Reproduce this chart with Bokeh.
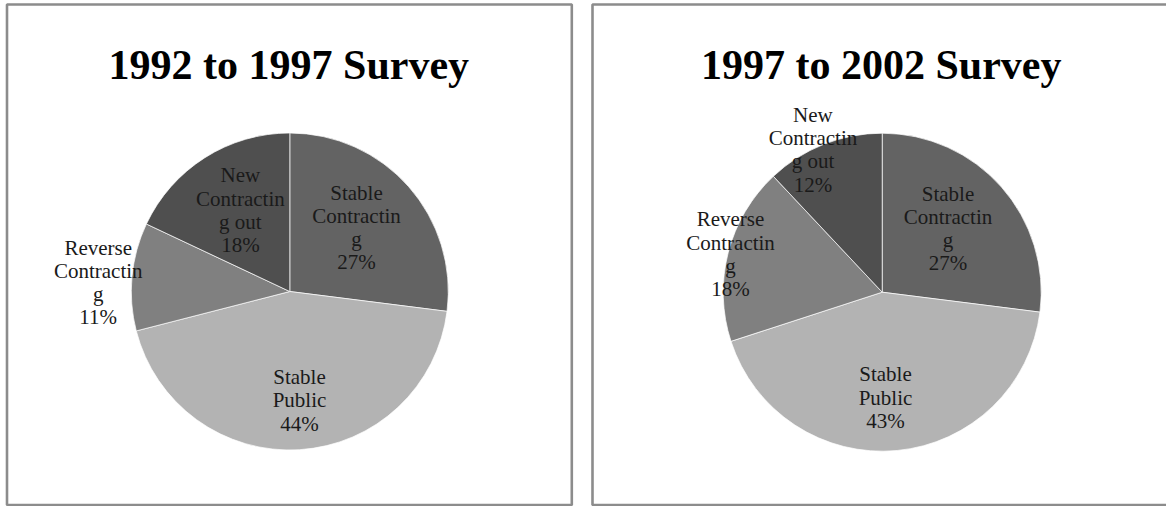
import math
from bokeh.plotting import figure
from bokeh.models import Range1d, ColumnDataSource
from bokeh.embed import file_html
from bokeh.resources import INLINE
from bokeh.core.properties import value

# ---------------- data ----------------
titles = ["1992 to 1997 Survey", "1997 to 2002 Survey"]
categories = ["Stable Contracting", "Stable Public", "Reverse Contracting", "New Contracting out"]
wrapped_labels = ["Stable\nContractin\ng", "Stable\nPublic", "Reverse\nContractin\ng", "New\nContractin\ng out"]
shares_1992_1997 = [27, 44, 11, 18]
shares_1997_2002 = [27, 43, 18, 12]
series = [shares_1992_1997, shares_1997_2002]

# ---------------- styles / layout ----------------
slice_colors = ["#636363", "#b3b3b3", "#808080", "#4f4f4f"]
W, H = 1166, 506

def sy(s):
    return H - s

panels = [
    dict(left=6.5, right=571.3, top=4.0, bottom=504.5, cx=289.3, cy=291.0, r=158.5,
         lab_r=[0.583, 0.69, 1.21, 0.60], lab_nudge=[-2.4, -1.5, -2.7, 1.1]),
    dict(left=592.0, right=1172.0, top=4.0, bottom=504.5, cx=881.7, cy=291.7, r=159.0,
         lab_r=[0.576, 0.663, 0.983, 0.997], lab_nudge=[-2.7, 3.6, -0.4, -4.3]),
]

p = figure(width=W, height=H, x_range=Range1d(0, W), y_range=Range1d(0, H),
           output_backend="svg", toolbar_location=None,
           x_axis_type=None, y_axis_type=None, min_border=0,
           outline_line_color=None, background_fill_color="white",
           border_fill_color="white")
p.grid.visible = False

for k, (panel, shares) in enumerate(zip(panels, series)):
    # panel border
    p.quad(left=[panel["left"]], right=[panel["right"]],
           top=[sy(panel["top"])], bottom=[sy(panel["bottom"])],
           fill_color=None, line_color="#8c8c8c", line_width=2.6)

    total = float(sum(shares))
    starts, ends, lx, ly, texts = [], [], [], [], []
    cum = 0.0
    for i, v in enumerate(shares):
        f0 = cum / total
        f1 = (cum + v) / total
        cum += v
        # clockwise from 12 o'clock
        starts.append(math.pi / 2 - f1 * 2 * math.pi)
        ends.append(math.pi / 2 - f0 * 2 * math.pi)
        mid_deg = (f0 + f1) / 2 * 360 + panel["lab_nudge"][i]
        d = panel["lab_r"][i] * panel["r"]
        lx.append(panel["cx"] + d * math.sin(math.radians(mid_deg)))
        ly.append(sy(panel["cy"]) + d * math.cos(math.radians(mid_deg)))
        texts.append(f"{wrapped_labels[i]}\n{v}%")

    src = ColumnDataSource(dict(start=starts, end=ends, color=slice_colors,
                                cat=categories, lx=lx, ly=ly, text=texts))
    p.wedge(x=panel["cx"], y=sy(panel["cy"]), radius=panel["r"],
            start_angle="start", end_angle="end", direction="anticlock",
            fill_color="color", line_color="white", line_width=0.7, source=src)
    p.text(x="lx", y="ly", text="text", source=src,
           text_font=value("Liberation Serif"), text_font_size="21px",
           text_color="#1a1a1a", text_align="center", text_baseline="middle",
           text_line_height=0.97)

    # title
    p.text(x=[panel["cx"] - 1], y=[sy(64.5)], text=[titles[k]],
           text_font=value("Liberation Serif"), text_font_size="42px",
           text_font_style="bold", text_color="black",
           text_align="center", text_baseline="alphabetic")

open("out.html", "w").write(file_html(p, INLINE))
